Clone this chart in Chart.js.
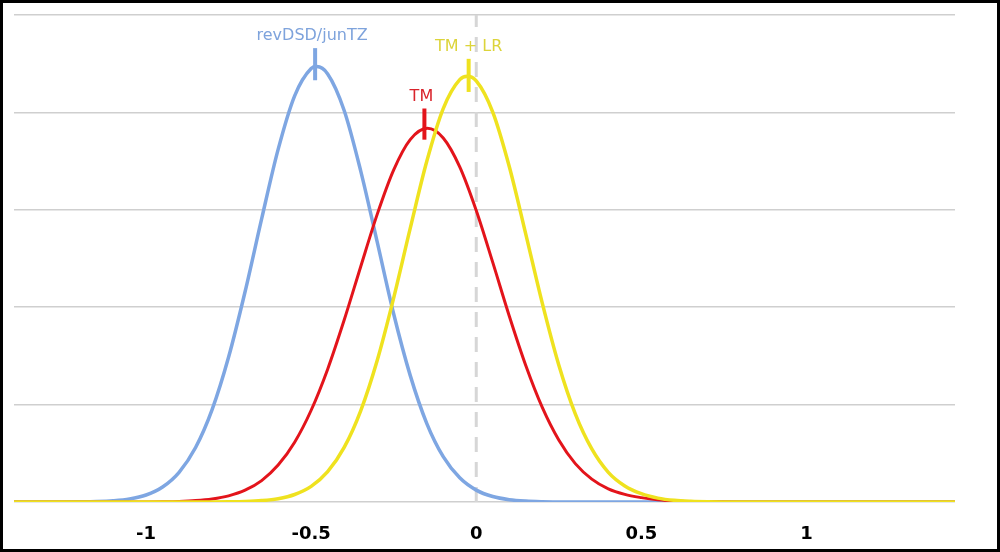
<!DOCTYPE html>
<html>
<head>
<meta charset="utf-8">
<script src="https://cdn.jsdelivr.net/npm/chart.js@4.4.1/dist/chart.umd.min.js"></script>
<style>
  html, body { margin: 0; padding: 0; background: #fff; }
  #frame { width: 1000px; height: 552px; box-sizing: border-box; border: 3px solid #000; background: #fff; }
  canvas { display: block; }
</style>
</head>
<body>
<div id="frame"><canvas id="c" width="994" height="546"></canvas></div>
<script>
// ---- data ----
const xTicks = [-1, -0.5, 0, 0.5, 1];

const blueX = [-1.40, -1.25, -1.20, -1.15, -1.10, -1.05, -1.00, -0.95, -0.90, -0.85, -0.80, -0.75, -0.70, -0.65, -0.60, -0.55, -0.50, -0.483, -0.45, -0.40, -0.35, -0.30, -0.25, -0.20, -0.15, -0.10, -0.05, 0.00, 0.05, 0.10, 0.15, 0.20, 0.25, 0.35, 1.45];
const blueY = [0, 0.0005, 0.0016, 0.0046, 0.0126, 0.031, 0.072, 0.154, 0.305, 0.559, 0.948, 1.488, 2.161, 2.907, 3.62, 4.17, 4.45, 4.47, 4.395, 4.02, 3.40, 2.67, 1.93, 1.30, 0.808, 0.465, 0.248, 0.122, 0.056, 0.0236, 0.0092, 0.0033, 0.0011, 0, 0];

const redX = [-1.40, -1.05, -1.00, -0.95, -0.90, -0.85, -0.80, -0.75, -0.70, -0.65, -0.60, -0.55, -0.50, -0.45, -0.40, -0.35, -0.30, -0.25, -0.20, -0.148, -0.10, -0.05, 0.00, 0.05, 0.10, 0.15, 0.20, 0.25, 0.30, 0.35, 0.40, 0.45, 0.50, 0.55, 0.60, 0.65, 0.70, 0.80, 1.45];
const redY = [0, 0.0003, 0.001, 0.0026, 0.0063, 0.0144, 0.031, 0.063, 0.121, 0.220, 0.379, 0.614, 0.942, 1.364, 1.868, 2.416, 2.953, 3.410, 3.721, 3.837, 3.738, 3.441, 2.993, 2.460, 1.910, 1.402, 0.972, 0.637, 0.394, 0.235, 0.135, 0.078, 0.045, 0.022, 0.010, 0.004, 0.0015, 0, 0];

const yellowX = [-1.40, -0.80, -0.75, -0.70, -0.65, -0.60, -0.55, -0.50, -0.45, -0.40, -0.35, -0.30, -0.25, -0.20, -0.15, -0.10, -0.05, -0.027, 0.00, 0.05, 0.10, 0.15, 0.20, 0.25, 0.30, 0.35, 0.40, 0.45, 0.50, 0.55, 0.60, 0.65, 0.70, 0.80, 1.45];
const yellowY = [0, 0.0005, 0.0019, 0.0054, 0.0142, 0.034, 0.077, 0.160, 0.311, 0.560, 0.936, 1.453, 2.096, 2.809, 3.495, 4.039, 4.336, 4.37, 4.323, 4.003, 3.444, 2.751, 2.042, 1.407, 0.905, 0.545, 0.305, 0.165, 0.085, 0.040, 0.017, 0.007, 0.0025, 0, 0];

const seriesNames = ['revDSD/junTZ', 'TM', 'TM + LR'];
const markerX = [-0.488, -0.157, -0.023];
const markerLow = [4.33, 3.72, 4.21];
const markerHigh = [4.66, 4.04, 4.55];

// ---- styles ----
const BLUE = '#7ea6e2';
const RED = '#e3141b';
const YELLOW = '#efe21f';
const labelColors = ['#7ea3dc', '#d9232b', '#dcd43a'];
const markerColors = [BLUE, RED, YELLOW];

const zip = (xs, ys) => xs.map((x, i) => ({ x: x, y: ys[i] }));

const curve = (data, color, w) => ({
  data: data, borderColor: color, borderWidth: w, pointRadius: 0,
  fill: false, cubicInterpolationMode: 'monotone'
});

const markers = markerX.map((mx, i) => ({
  data: [{ x: mx, y: markerLow[i] }, { x: mx, y: markerHigh[i] }],
  borderColor: markerColors[i], borderWidth: 4, pointRadius: 0, fill: false
}));

const datasets = [
  ...markers,
  curve(zip(yellowX, yellowY), YELLOW, 3.5),
  curve(zip(redX, redY), RED, 3),
  curve(zip(blueX, blueY), BLUE, 3.5),
  { data: [{ x: 0, y: 0 }, { x: 0, y: 5 }], borderColor: '#d6d6d6', borderWidth: 3,
    borderDash: [15, 10], pointRadius: 0, fill: false }
];

const labelPlugin = {
  id: 'peakLabels',
  afterDatasetsDraw(chart) {
    const ctx = chart.ctx, xs = chart.scales.x, ys = chart.scales.y;
    ctx.save();
    ctx.font = '16px "DejaVu Sans"';
    ctx.textAlign = 'center';
    ctx.textBaseline = 'middle';
    seriesNames.forEach((name, i) => {
      ctx.fillStyle = labelColors[i];
      const px = xs.getPixelForValue(markerX[i]) - (i < 2 ? 3 : 0);
      const py = ys.getPixelForValue(markerHigh[i]) - 12;
      ctx.fillText(name, px, py);
    });
    ctx.restore();
  }
};

new Chart(document.getElementById('c'), {
  type: 'line',
  data: { datasets: datasets },
  plugins: [labelPlugin],
  options: {
    responsive: false,
    animation: false,
    devicePixelRatio: 1,
    layout: { padding: { left: 11, right: 42, top: 12, bottom: 0 } },
    plugins: { legend: { display: false }, tooltip: { enabled: false } },
    scales: {
      x: {
        type: 'linear', min: -1.4, max: 1.45,
        afterBuildTicks: (s) => { s.ticks = xTicks.map(v => ({ value: v })); },
        afterFit: (s) => { s.height = 47; },
        grid: { display: false, drawTicks: false },
        border: { display: false },
        ticks: {
          color: '#000', padding: 22,
          font: { family: '"DejaVu Sans"', size: 18, weight: 'bold' },
          callback: (v) => String(v)
        }
      },
      y: {
        type: 'linear', min: 0, max: 5,
        afterFit: (s) => { s.width = 0; },
        ticks: { display: false, stepSize: 1 },
        grid: { color: '#cfcfcf', lineWidth: 1.5, drawTicks: false },
        border: { display: false }
      }
    }
  }
});
</script>
</body>
</html>
